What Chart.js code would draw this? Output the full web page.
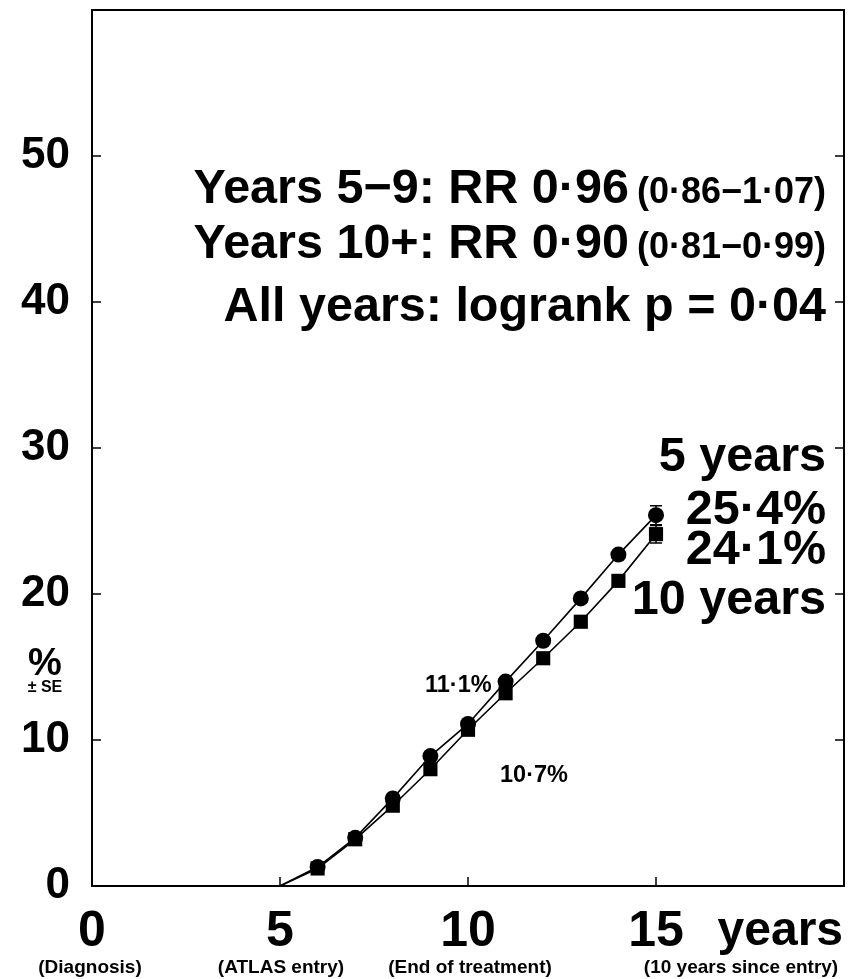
<!DOCTYPE html>
<html>
<head>
<meta charset="utf-8">
<title>Cumulative risk</title>
<script src="https://cdn.jsdelivr.net/npm/chart.js@4.4.1/dist/chart.umd.min.js"></script>
<style>
  html, body { margin: 0; padding: 0; background: #fff; }
  #wrap { width: 849px; height: 979px; position: relative; }
</style>
</head>
<body>
<div id="wrap"><canvas id="riskChart"></canvas></div>
<script>
/* =========================================================
   DATA
========================================================= */
const years      = [5, 6, 7, 8, 9, 10, 11, 12, 13, 14, 15];
const circleVals = [0, 1.3, 3.3, 6.0, 8.9, 11.1, 14.0, 16.8, 19.7, 22.7, 25.4];
const squareVals = [0, 1.2, 3.2, 5.5, 8.0, 10.7, 13.2, 15.6, 18.1, 20.9, 24.1];
const circleSE   = [0, 0, 0, 0, 0, 0, 0, 0, 0, 0, 0.65];
const squareSE   = [0, 0, 0, 0, 0, 0, 0, 0, 0, 0, 0.6];

const xTicks = [0, 5, 10, 15];
const yTicks = [0, 10, 20, 30, 40, 50];

const FONT = "'Liberation Sans', Arial, Helvetica, sans-serif";

function points(vals) {
  return years.map((x, i) => ({ x, y: vals[i] }));
}
// no marker at the starting point (value 0)
function radii(vals, r) {
  return vals.map(v => (v === 0 ? 0 : r));
}

/* =========================================================
   PLUGIN: frame, inner ticks, error bars, texts
========================================================= */
const decorPlugin = {
  id: "decor",
  afterDraw(chart) {
    const ctx = chart.ctx;
    const a = chart.chartArea;
    const xs = chart.scales.x;
    const ys = chart.scales.y;

    ctx.save();
    ctx.strokeStyle = "#000";
    ctx.lineWidth = 2;
    ctx.strokeRect(a.left, a.top, a.right - a.left, a.bottom - a.top);

    // inward tick marks
    ctx.lineWidth = 1.5;
    ctx.beginPath();
    yTicks.slice(1).forEach(v => {
      const py = ys.getPixelForValue(v);
      ctx.moveTo(a.left, py);  ctx.lineTo(a.left + 9, py);
      ctx.moveTo(a.right, py); ctx.lineTo(a.right - 9, py);
    });
    xTicks.slice(1).forEach(v => {
      const px = xs.getPixelForValue(v);
      ctx.moveTo(px, a.bottom); ctx.lineTo(px, a.bottom - 9);
    });
    ctx.stroke();

    // error bars
    ctx.lineWidth = 1.5;
    [[circleVals, circleSE], [squareVals, squareSE]].forEach(([vals, se]) => {
      years.forEach((x, i) => {
        if (!se[i]) return;
        const px = xs.getPixelForValue(x);
        const lo = ys.getPixelForValue(vals[i] - se[i]);
        const hi = ys.getPixelForValue(vals[i] + se[i]);
        ctx.beginPath();
        ctx.moveTo(px, lo); ctx.lineTo(px, hi);
        ctx.moveTo(px - 6, lo); ctx.lineTo(px + 6, lo);
        ctx.moveTo(px - 6, hi); ctx.lineTo(px + 6, hi);
        ctx.stroke();
      });
    });

    ctx.fillStyle = "#000";
    ctx.textBaseline = "alphabetic";

    // right-aligned big text with optional smaller tail
    function line(big, small, y) {
      let right = 826;
      ctx.textAlign = "right";
      if (small) {
        ctx.font = "bold 36px " + FONT;
        ctx.fillText(small, right, y);
        right -= ctx.measureText(small).width + 8;
      }
      ctx.font = "bold 48.5px " + FONT;
      ctx.fillText(big, right, y);
    }
    line("Years 5\u22129: RR 0\u00b796", "(0\u00b786\u22121\u00b707)", 203);
    line("Years 10+: RR 0\u00b790", "(0\u00b781\u22120\u00b799)", 258);
    line("All years: logrank p = 0\u00b704", null, 321);
    line("5 years", null, 471);
    line("25\u00b74%", null, 524);
    line("24\u00b71%", null, 564);
    line("10 years", null, 614);

    ctx.font = "bold 23.5px " + FONT;
    ctx.textAlign = "left";
    ctx.fillText("11\u00b71%", 425, 692);
    ctx.fillText("10\u00b77%", 500, 782);

    ctx.textAlign = "center";
    ctx.font = "bold 38px " + FONT;
    ctx.fillText("%", 45, 675);
    ctx.font = "bold 16px " + FONT;
    ctx.fillText("\u00b1 SE", 45, 692);

    ctx.font = "bold 48px " + FONT;
    ctx.textAlign = "right";
    ctx.fillText("years", 843, 945);

    ctx.font = "bold 19px " + FONT;
    ctx.textAlign = "center";
    ctx.fillText("(Diagnosis)", 90, 973);
    ctx.fillText("(ATLAS entry)", 281, 973);
    ctx.fillText("(End of treatment)", 470, 973);
    ctx.fillText("(10 years since entry)", 741, 973);
    ctx.restore();
  }
};

/* =========================================================
   CHART
========================================================= */
new Chart(document.getElementById("riskChart"), {
  type: "line",
  data: {
    datasets: [
      {
        label: "Squares",
        data: points(squareVals),
        borderColor: "#000",
        backgroundColor: "#000",
        borderWidth: 1.6,
        pointStyle: "rect",
        pointRadius: radii(squareVals, 10),
        pointBorderWidth: 0,
        tension: 0
      },
      {
        label: "Circles",
        data: points(circleVals),
        borderColor: "#000",
        backgroundColor: "#000",
        borderWidth: 1.6,
        pointStyle: "circle",
        pointRadius: radii(circleVals, 8),
        pointBorderWidth: 0,
        tension: 0
      }
    ]
  },
  options: {
    responsive: true,
    maintainAspectRatio: false,
    animation: false,
    layout: { autoPadding: false, padding: { top: 10, right: 5, left: 0, bottom: 0 } },
    plugins: {
      legend: { display: false },
      tooltip: { enabled: false }
    },
    scales: {
      x: {
        type: "linear",
        min: 0,
        max: 20,
        afterFit: s => { s.height = 93; s.paddingLeft = 0; s.paddingRight = 0; },
        afterBuildTicks: s => { s.ticks = xTicks.map(v => ({ value: v })); },
        grid: { display: false },
        border: { display: false },
        ticks: {
          color: "#000",
          padding: 8,
          maxRotation: 0,
          autoSkip: false,
          font: { family: FONT, size: 50, weight: "bold" }
        }
      },
      y: {
        min: 0,
        max: 60,
        afterFit: s => { s.width = 92; s.paddingTop = 0; s.paddingBottom = 0; },
        afterBuildTicks: s => { s.ticks = yTicks.map(v => ({ value: v })); },
        grid: { display: false },
        border: { display: false },
        ticks: {
          color: "#000",
          padding: 14,
          autoSkip: false,
          font: { family: FONT, size: 44, weight: "bold" }
        }
      }
    }
  },
  plugins: [decorPlugin]
});
</script>
</body>
</html>
